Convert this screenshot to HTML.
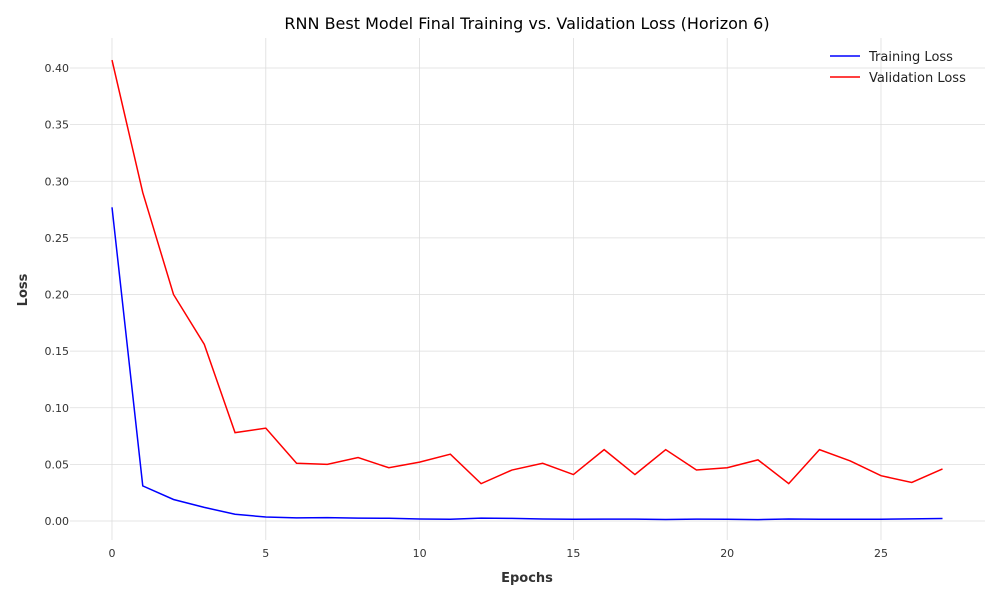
<!DOCTYPE html>
<html><head><meta charset="utf-8">
<style>
body{margin:0;background:#fff;font-family:"Liberation Sans","DejaVu Sans",sans-serif;}
svg text{font-family:"DejaVu Sans","Liberation Sans",sans-serif;}
</style></head>
<body>
<svg id="chart" width="1000" height="600" xmlns="http://www.w3.org/2000/svg">
<text x="527" y="29" text-anchor="middle" font-size="16" fill="#000">RNN Best Model Final Training vs. Validation Loss (Horizon 6)</text>
<g id="grid"></g>
<g id="ticks"></g>
<g id="series"></g>
<text x="527" y="582" text-anchor="middle" font-size="13" font-weight="bold" fill="#333">Epochs</text>
<text transform="translate(27,290) rotate(-90)" text-anchor="middle" font-size="13" font-weight="bold" fill="#333">Loss</text>
<g>
<line x1="830" y1="56" x2="860" y2="56" stroke="#0000ff" stroke-width="1.5"/>
<text x="869" y="61" font-size="13" fill="#222">Training Loss</text>
<line x1="830" y1="77" x2="860" y2="77" stroke="#ff0000" stroke-width="1.5"/>
<text x="869" y="82" font-size="13" fill="#222">Validation Loss</text>
</g>
</svg>
<script>
const epochs=[0,1,2,3,4,5,6,7,8,9,10,11,12,13,14,15,16,17,18,19,20,21,22,23,24,25,26,27];
const trainLoss=[0.277,0.031,0.019,0.012,0.006,0.0035,0.0028,0.003,0.0025,0.0024,0.0018,0.0015,0.0025,0.0023,0.0018,0.0016,0.0017,0.0017,0.0013,0.0017,0.0015,0.0012,0.0018,0.0016,0.0015,0.0016,0.0019,0.0022];
const valLoss=[0.407,0.290,0.200,0.156,0.078,0.082,0.051,0.050,0.056,0.047,0.052,0.059,0.033,0.045,0.051,0.041,0.063,0.041,0.063,0.045,0.047,0.054,0.033,0.063,0.053,0.040,0.034,0.046];
const xTicks=[0,5,10,15,20,25];
const yTicks=[0,0.05,0.10,0.15,0.20,0.25,0.30,0.35,0.40];
const NS="http://www.w3.org/2000/svg";
const L=70,R=985,T=38,B=540;
const xs=v=>112+v*(881-112)/25;
const ys=v=>521-v*(521-68)/0.40;
const grid=document.getElementById('grid'),ticks=document.getElementById('ticks'),series=document.getElementById('series');
function mk(tag,attrs,parent){const e=document.createElementNS(NS,tag);for(const k in attrs)e.setAttribute(k,attrs[k]);parent.appendChild(e);return e;}
xTicks.forEach(t=>{
 const g=mk('line',{x1:xs(t),x2:xs(t),y1:T,y2:B,stroke:'#dddddd','stroke-width':0.8},grid);
 
 
 const tx=mk('text',{x:xs(t),y:B+17,'text-anchor':'middle','font-size':11,fill:'#333'},ticks);
 tx.textContent=t;
 
 
});
yTicks.forEach(t=>{
 const g=mk('line',{x1:L,x2:R,y1:ys(t),y2:ys(t),stroke:'#dddddd','stroke-width':0.8},grid);
 
 
 const tx=mk('text',{x:L-1,y:ys(t)+4,'text-anchor':'end','font-size':11,fill:'#333'},ticks);
 tx.textContent=t.toFixed(2);
 
 
});
function line(data,color,name){
 const p=mk('polyline',{points:data.map((v,i)=>xs(epochs[i])+','+ys(v)).join(' '),fill:'none',stroke:color,'stroke-width':1.5},series);
 
 
}
line(trainLoss,'#0000ff','training-loss-line');
line(valLoss,'#ff0000','validation-loss-line');
</script>
</body></html>
